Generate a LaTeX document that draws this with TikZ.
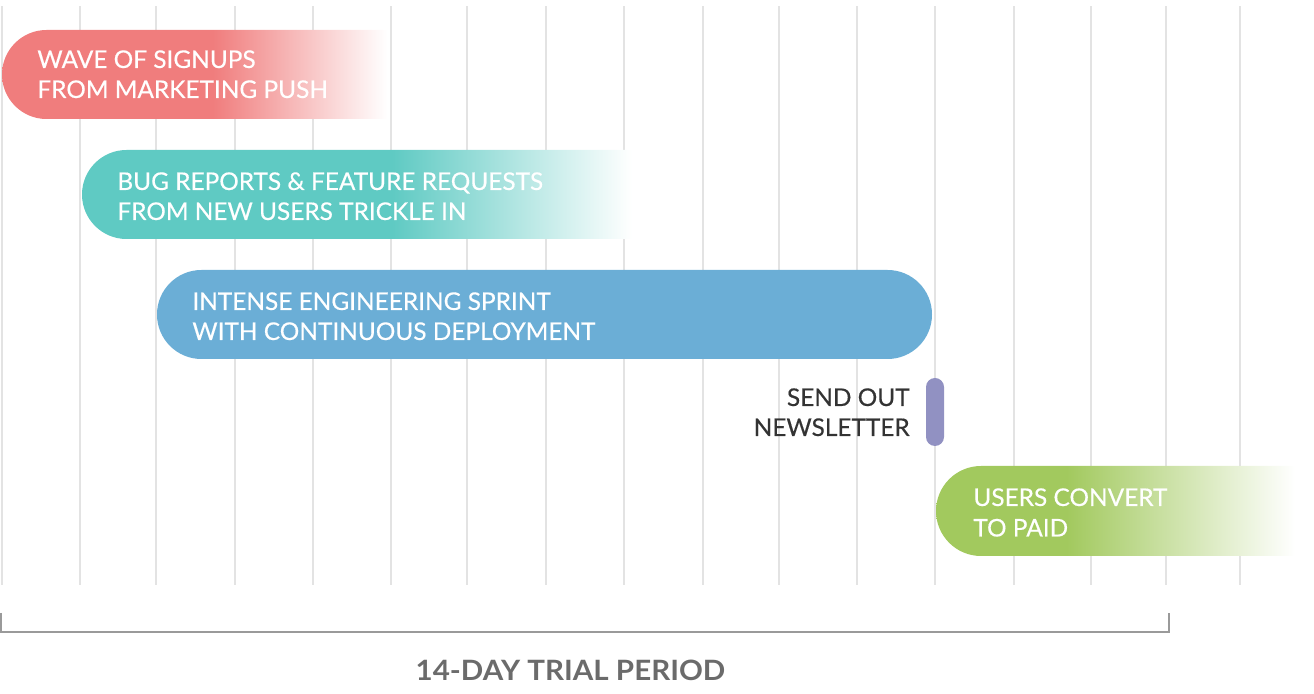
\documentclass[tikz,border=0pt]{standalone}
\usepackage{fontspec}
\setmainfont{Lato}
\newfontfamily\barfont[FakeBold=0.4]{Lato}
\newfontfamily\captionfont[FakeStretch=1.055]{Lato Bold}
\definecolor{redbar}{HTML}{F07D7D}
\definecolor{tealbar}{HTML}{5FCAC3}
\definecolor{bluebar}{HTML}{6BAED6}
\definecolor{purplebar}{HTML}{9191C2}
\definecolor{greenbar}{HTML}{A2C95E}
\definecolor{gridgray}{HTML}{E3E3E3}
\definecolor{bracketgray}{HTML}{9A9A9A}
\definecolor{captiongray}{HTML}{6B6B6B}
\definecolor{notegray}{HTML}{333333}
% solid head that fades to white towards the right end of each bar
\pgfdeclarehorizontalshading{redfade}{100bp}{color(0bp)=(redbar); color(52.4bp)=(redbar); color(75bp)=(white); color(100bp)=(white)}
\pgfdeclarehorizontalshading{tealfade}{100bp}{color(0bp)=(tealbar); color(53.2bp)=(tealbar); color(75bp)=(white); color(100bp)=(white)}
\pgfdeclarehorizontalshading{greenfade}{100bp}{color(0bp)=(greenbar); color(43.2bp)=(greenbar); color(75bp)=(white); color(100bp)=(white)}
\begin{document}
\begin{tikzpicture}[x=0.5pt,y=-0.5pt,
  gridline/.style={draw=gridgray, line width=1pt},
  barlabel/.style={font=\barfont\fontsize{12.2}{15}\selectfont, text=white, inner sep=0pt, anchor=base west},
  notelabel/.style={font=\barfont\fontsize{12.2}{15}\selectfont, text=notegray, inner sep=0pt, anchor=base east},
  caption/.style={font=\captionfont\fontsize{14}{16}\selectfont, text=captiongray, inner sep=0pt, anchor=base},
  pill/.style={rounded corners=22.2pt}]
\useasboundingbox (0,0) rectangle (1314,694);

% day grid
\foreach \gx in {2,80,156,235,313,391,467,546,624,703,779,857,935,1014,1091,1166,1240}
  \draw[gridline] (\gx,6) -- (\gx,585);

% signups
\shade[shading=redfade] (46.5,30) -- (387,30) -- (387,119) -- (46.5,119)
  arc[start angle=90, end angle=270, radius=44.5] -- cycle;
\node[barlabel] (wave1) at (37,68) {WAVE OF SIGNUPS};
\node[barlabel] (wave2) at (37,98) {FROM MARKETING PUSH};

% feedback
\shade[shading=tealfade] (126.5,150) -- (632,150) -- (632,239) -- (126.5,239)
  arc[start angle=90, end angle=270, radius=44.5] -- cycle;
\node[barlabel] (bug1) at (117,190) {BUG REPORTS \& FEATURE REQUESTS};
\node[barlabel] (bug2) at (117,220) {FROM NEW USERS TRICKLE IN};

% engineering sprint
\fill[bluebar, pill] (157,270) rectangle (932,359);
\node[barlabel] (eng1) at (192,310) {INTENSE ENGINEERING SPRINT};
\node[barlabel] (eng2) at (192,340) {WITH CONTINUOUS DEPLOYMENT};

% newsletter marker
\fill[purplebar, rounded corners=4.5pt] (926,378) rectangle (944,446);
\node[notelabel] (news1) at (910,406) {SEND OUT};
\node[notelabel] (news2) at (910,436) {NEWSLETTER};

% conversion
\shade[shading=greenfade] (981,466) -- (1295,466) -- (1295,556) -- (981,556)
  arc[start angle=90, end angle=270, radius=45] -- cycle;
\node[barlabel] (conv1) at (973,506) {USERS CONVERT};
\node[barlabel] (conv2) at (973,536.5) {TO PAID};

% trial period bracket
\draw[bracketgray, line width=1pt] (1,613) -- (1,632.5) -- (1168.5,632.5) -- (1168.5,613);
\node[caption] (trial) at (570.5,681) {14-DAY TRIAL PERIOD};
\end{tikzpicture}
\end{document}
